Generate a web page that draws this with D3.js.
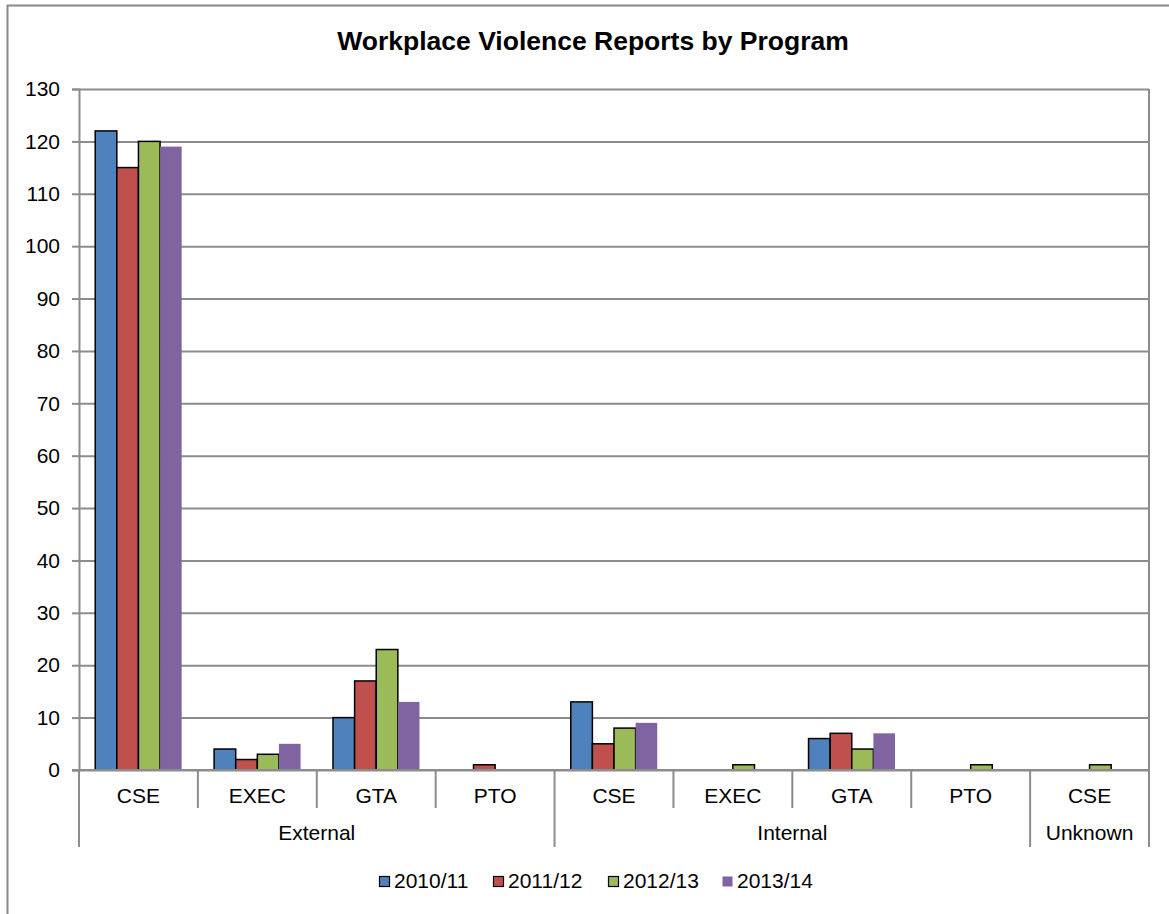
<!DOCTYPE html>
<html>
<head>
<meta charset="utf-8">
<script src="https://cdn.jsdelivr.net/npm/d3@7"></script>
<style>
  body { margin: 0; background: #fff; }
  text { font-family: Arial, "Liberation Sans", sans-serif; }
</style>
</head>
<body>
<div id="chart"></div>
<script>
// data
var groups = ["External", "External", "External", "External", "Internal", "Internal", "Internal", "Internal", "Unknown"];
var programs = ["CSE", "EXEC", "GTA", "PTO", "CSE", "EXEC", "GTA", "PTO", "CSE"];
var years = ["2010/11", "2011/12", "2012/13", "2013/14"];
var v2010 = [122, 4, 10, 0, 13, 0, 6, 0, 0];
var v2011 = [115, 2, 17, 1, 5, 0, 7, 0, 0];
var v2012 = [120, 3, 23, 0, 8, 1, 4, 1, 1];
var v2013 = [119, 5, 13, 0, 9, 0, 7, 0, 0];
var yTicks = [0, 10, 20, 30, 40, 50, 60, 70, 80, 90, 100, 110, 120, 130];

var colors = ["#4f81bd", "#c0504d", "#9bbb59", "#8064a2"];
var series = [v2010, v2011, v2012, v2013];

var W = 1169, H = 914;
var margin = {top: 89, left: 79},
    width = 1149 - margin.left,
    height = 770 - margin.top;
var fs = "21px";

var svg = d3.select("#chart").append("svg")
    .attr("width", W).attr("height", H);

// outer frame (left and top edge visible)
svg.append("path")
    .attr("d", "M7.5," + H + "V5.5H" + W)
    .attr("fill", "none").attr("stroke", "#868686").attr("stroke-width", 2);

svg.append("text")
    .attr("x", 593).attr("y", 50)
    .attr("text-anchor", "middle")
    .attr("font-size", "26.5px").attr("font-weight", "bold")
    .text("Workplace Violence Reports by Program");

var g = svg.append("g").attr("transform", "translate(" + margin.left + "," + margin.top + ")");

var idx = d3.range(programs.length);
var x0 = d3.scaleBand().domain(idx).range([0, width]);
var bw = x0.bandwidth() / 5.5;
var x1 = d3.scaleBand().domain(d3.range(years.length))
    .range([bw * 0.75, bw * 4.75]);
var y = d3.scaleLinear().domain([0, 130]).range([height, 0]);

// gridlines
g.selectAll(".grid").data(yTicks).enter().append("line")
    .attr("x1", 0).attr("x2", width)
    .attr("y1", d => y(d) + 0.5).attr("y2", d => y(d) + 0.5)
    .attr("stroke", "#8c8c8c").attr("stroke-width", 2);

// right border of plot
g.append("line").attr("x1", width).attr("x2", width).attr("y1", 0).attr("y2", height)
    .attr("stroke", "#8c8c8c").attr("stroke-width", 2);

// y axis
var yAxis = g.append("g")
    .call(d3.axisLeft(y).tickValues(yTicks).tickSize(7).tickPadding(12));
yAxis.select(".domain").attr("stroke", "#8c8c8c").attr("stroke-width", 2);
yAxis.selectAll(".tick line").attr("stroke", "#8c8c8c").attr("stroke-width", 2);
yAxis.selectAll(".tick text").attr("font-size", fs).attr("fill", "#000")
    .attr("font-family", "Arial, 'Liberation Sans', sans-serif");

// bars
series.forEach(function(vals, s) {
  g.selectAll(".bar" + s).data(vals).enter().append("rect")
      .attr("x", (d, i) => x0(i) + x1(s))
      .attr("width", x1.bandwidth())
      .attr("y", d => y(d))
      .attr("height", d => y(0) - y(d))
      .attr("fill", colors[s])
      .attr("stroke", s < 3 ? "#000" : "none")
      .attr("stroke-width", 1.5)
      .style("display", d => d > 0 ? null : "none");
});

// x axis baseline
g.append("line").attr("x1", -7).attr("x2", width).attr("y1", height).attr("y2", height)
    .attr("stroke", "#8c8c8c").attr("stroke-width", 2);

// category separators and labels
var seps = d3.range(programs.length + 1);
g.selectAll(".sep").data(seps).enter().append("line")
    .attr("x1", d => d === programs.length ? width : x0(d))
    .attr("x2", d => d === programs.length ? width : x0(d))
    .attr("y1", height)
    .attr("y2", function(d) {
      var isGroup = d === 0 || d === programs.length || groups[d] !== groups[d - 1];
      return height + (isGroup ? 77 : 38);
    })
    .attr("stroke", "#8c8c8c").attr("stroke-width", 2);

g.selectAll(".cat").data(programs).enter().append("text")
    .attr("x", (d, i) => x0(i) + x0.bandwidth() / 2)
    .attr("y", height + 33)
    .attr("text-anchor", "middle").attr("font-size", fs)
    .text(d => d);

var groupNames = Array.from(new Set(groups));
g.selectAll(".grp").data(groupNames).enter().append("text")
    .attr("x", function(d) {
      var first = groups.indexOf(d), last = groups.lastIndexOf(d);
      return (x0(first) + x0(last) + x0.bandwidth()) / 2;
    })
    .attr("y", height + 70)
    .attr("text-anchor", "middle").attr("font-size", fs)
    .text(d => d);

// legend
var legX = [379, 493, 608, 722];
var leg = svg.selectAll(".leg").data(years).enter().append("g")
    .attr("transform", (d, i) => "translate(" + legX[i] + ",876)");
leg.append("rect")
    .attr("x", 0.5).attr("y", 0.5).attr("width", 10).attr("height", 10)
    .attr("fill", (d, i) => colors[i])
    .attr("stroke", (d, i) => i < 3 ? "#000" : "none").attr("stroke-width", 1.2);
leg.append("text")
    .attr("x", 15).attr("y", 12)
    .attr("font-size", fs)
    .text(d => d);
</script>
</body>
</html>
